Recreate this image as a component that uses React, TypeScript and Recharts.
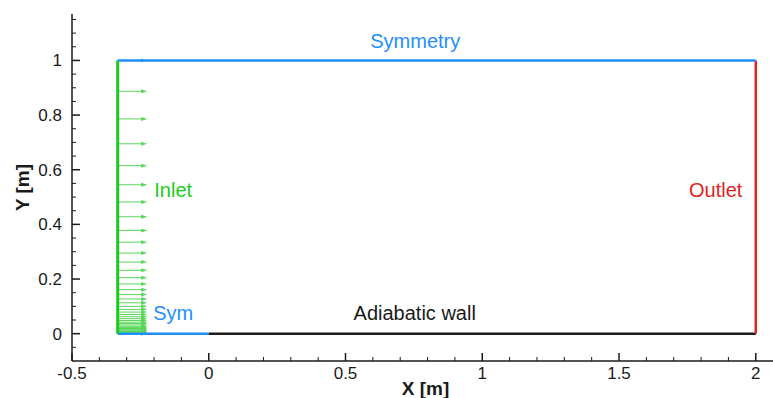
import { ComposedChart, Line, XAxis, YAxis, ReferenceLine, ReferenceDot, Label } from 'recharts';

const BLUE = '#1f8fff';
const GREEN = '#1ccc1c';
const ARROW_GREEN = '#5ad65a';
const RED = '#e02424';
const INK = '#1a1a1a';

// domain boundaries
const inletX = -0.333;
const arrowTipX = -0.225;
const symmetryTop = [{ x: -0.333, y: 1 }, { x: 2, y: 1 }];
const symBottom = [{ x: -0.333, y: 0 }, { x: 0, y: 0 }];
const adiabaticWall = [{ x: 0, y: 0 }, { x: 2, y: 0 }];
const outlet = [{ x: 2, y: 0 }, { x: 2, y: 1 }];
const inlet = [{ x: -0.333, y: 0 }, { x: -0.333, y: 1 }];

// inlet velocity vectors (grid clustered toward the wall)
const inletArrowY = [
    1.0, 0.887, 0.786, 0.695, 0.615, 0.545, 0.482, 0.428, 0.378, 0.335, 0.295, 0.262, 0.232, 0.205,
    0.182, 0.161, 0.143, 0.127, 0.113, 0.1, 0.089, 0.079, 0.07, 0.062, 0.055, 0.048, 0.042, 0.037,
    0.032, 0.027, 0.023, 0.019, 0.016, 0.013, 0.01, 0.008, 0.006, 0.004, 0.002, 0,
];

const xMajorTicks = [-0.5, 0, 0.5, 1, 1.5, 2];
const xMinorTicks = [-0.4, -0.3, -0.2, -0.1, 0.1, 0.2, 0.3, 0.4, 0.6, 0.7, 0.8, 0.9, 1.1, 1.2, 1.3, 1.4, 1.6, 1.7, 1.8, 1.9];
const yMajorTicks = [0, 0.2, 0.4, 0.6, 0.8, 1];
const yMinorTicks = [-0.05, 0.05, 0.1, 0.15, 0.25, 0.3, 0.35, 0.45, 0.5, 0.55, 0.65, 0.7, 0.75, 0.85, 0.9, 0.95, 1.05, 1.1, 1.15];

const XTick = (props: any) => {
    const { x, y, payload } = props;
    const major = xMajorTicks.includes(payload.value);
    return (
        <g>
            <line x1={x} x2={x} y1={y} y2={y - (major ? 8 : 4)} stroke={INK} strokeWidth={major ? 1.5 : 1} />
            {major && (
                <text x={x} y={y + 18} textAnchor="middle" fontSize={17} fill={INK}>
                    {String(payload.value)}
                </text>
            )}
        </g>
    );
};

const YTick = (props: any) => {
    const { x, y, payload } = props;
    const major = yMajorTicks.includes(payload.value);
    return (
        <g>
            <line x1={x} x2={x + (major ? 8 : 4)} y1={y} y2={y} stroke={INK} strokeWidth={major ? 1.5 : 1} />
            {major && (
                <text x={x - 10} y={y + 6} textAnchor="end" fontSize={17} fill={INK}>
                    {String(payload.value)}
                </text>
            )}
        </g>
    );
};

const Arrow = (p: any) => {
    const { x1, y1, x2, y2 } = p;
    return (
        <g>
            <line x1={x1} y1={y1} x2={x2 - 4} y2={y2} stroke={ARROW_GREEN} strokeWidth={1} />
            <polygon points={`${x2},${y2} ${x2 - 6},${y2 - 2} ${x2 - 6},${y2 + 2}`} fill={ARROW_GREEN} />
        </g>
    );
};

export default function App() {
    return (
        <div style={{ position: 'absolute', left: 0, top: 0, width: 773, height: 398, overflow: 'hidden', background: '#fff', fontFamily: '"Liberation Sans", Arial, sans-serif' }}>
            <ComposedChart width={773} height={398} margin={{ top: 14, right: 0, bottom: 0, left: 0 }}>
                <XAxis
                    dataKey="x"
                    type="number"
                    domain={[-0.5, 2.063]}
                    ticks={[...xMajorTicks, ...xMinorTicks].sort((a, b) => a - b)}
                    interval={0}
                    tick={<XTick />}
                    tickSize={0}
                    tickMargin={0}
                    height={37}
                    axisLine={{ stroke: INK, strokeWidth: 1.5 }}
                    allowDataOverflow
                >
                    <Label
                        content={({ viewBox }: any) => (
                            <text x={viewBox.x + viewBox.width / 2 + 3} y={viewBox.y + 34} textAnchor="middle" fontSize={19} fontWeight="bold" fill={INK}>
                                X [m]
                            </text>
                        )}
                    />
                </XAxis>
                <YAxis
                    type="number"
                    domain={[-0.1, 1.17]}
                    ticks={[...yMajorTicks, ...yMinorTicks].sort((a, b) => a - b)}
                    interval={0}
                    tick={<YTick />}
                    tickSize={0}
                    tickMargin={0}
                    width={72}
                    axisLine={{ stroke: INK, strokeWidth: 1.5 }}
                    allowDataOverflow
                >
                    <Label
                        content={({ viewBox }: any) => {
                            const cx = viewBox.x + 22;
                            const cy = viewBox.y + viewBox.height / 2;
                            return (
                                <text x={cx} y={cy} transform={`rotate(-90 ${cx} ${cy})`} textAnchor="middle" dominantBaseline="central" fontSize={19} fontWeight="bold" fill={INK}>
                                    Y [m]
                                </text>
                            );
                        }}
                    />
                </YAxis>

                {inletArrowY.map((y) => (
                    <ReferenceLine
                        key={y}
                        segment={[{ x: inletX, y }, { x: arrowTipX, y }]}
                        shape={<Arrow />}
                    />
                ))}

                <Line data={symBottom} dataKey="y" stroke={BLUE} strokeWidth={2.5} dot={false} isAnimationActive={false} />
                <Line data={adiabaticWall} dataKey="y" stroke={INK} strokeWidth={2.5} dot={false} isAnimationActive={false} />
                <Line data={outlet} dataKey="y" stroke={RED} strokeWidth={2.5} dot={false} isAnimationActive={false} />
                <Line data={symmetryTop} dataKey="y" stroke={BLUE} strokeWidth={2.5} dot={false} isAnimationActive={false} />
                <Line data={inlet} dataKey="y" stroke={GREEN} strokeWidth={3} dot={false} isAnimationActive={false} />

                <ReferenceDot x={0.755} y={1.07} r={0} fill="none" stroke="none" label={<Label value="Symmetry" position="center" fill={BLUE} fontSize={20} />} />
                <ReferenceDot x={-0.199} y={0.526} r={0} fill="none" stroke="none" label={<Label value="Inlet" position="right" offset={0} fill={GREEN} fontSize={20} />} />
                <ReferenceDot x={1.951} y={0.526} r={0} fill="none" stroke="none" label={<Label value="Outlet" position="left" offset={0} fill={RED} fontSize={20} />} />
                <ReferenceDot x={-0.203} y={0.077} r={0} fill="none" stroke="none" label={<Label value="Sym" position="right" offset={0} fill={BLUE} fontSize={20} />} />
                <ReferenceDot x={0.753} y={0.077} r={0} fill="none" stroke="none" label={<Label value="Adiabatic wall" position="center" fill={INK} fontSize={20} />} />
            </ComposedChart>
        </div>
    );
}
